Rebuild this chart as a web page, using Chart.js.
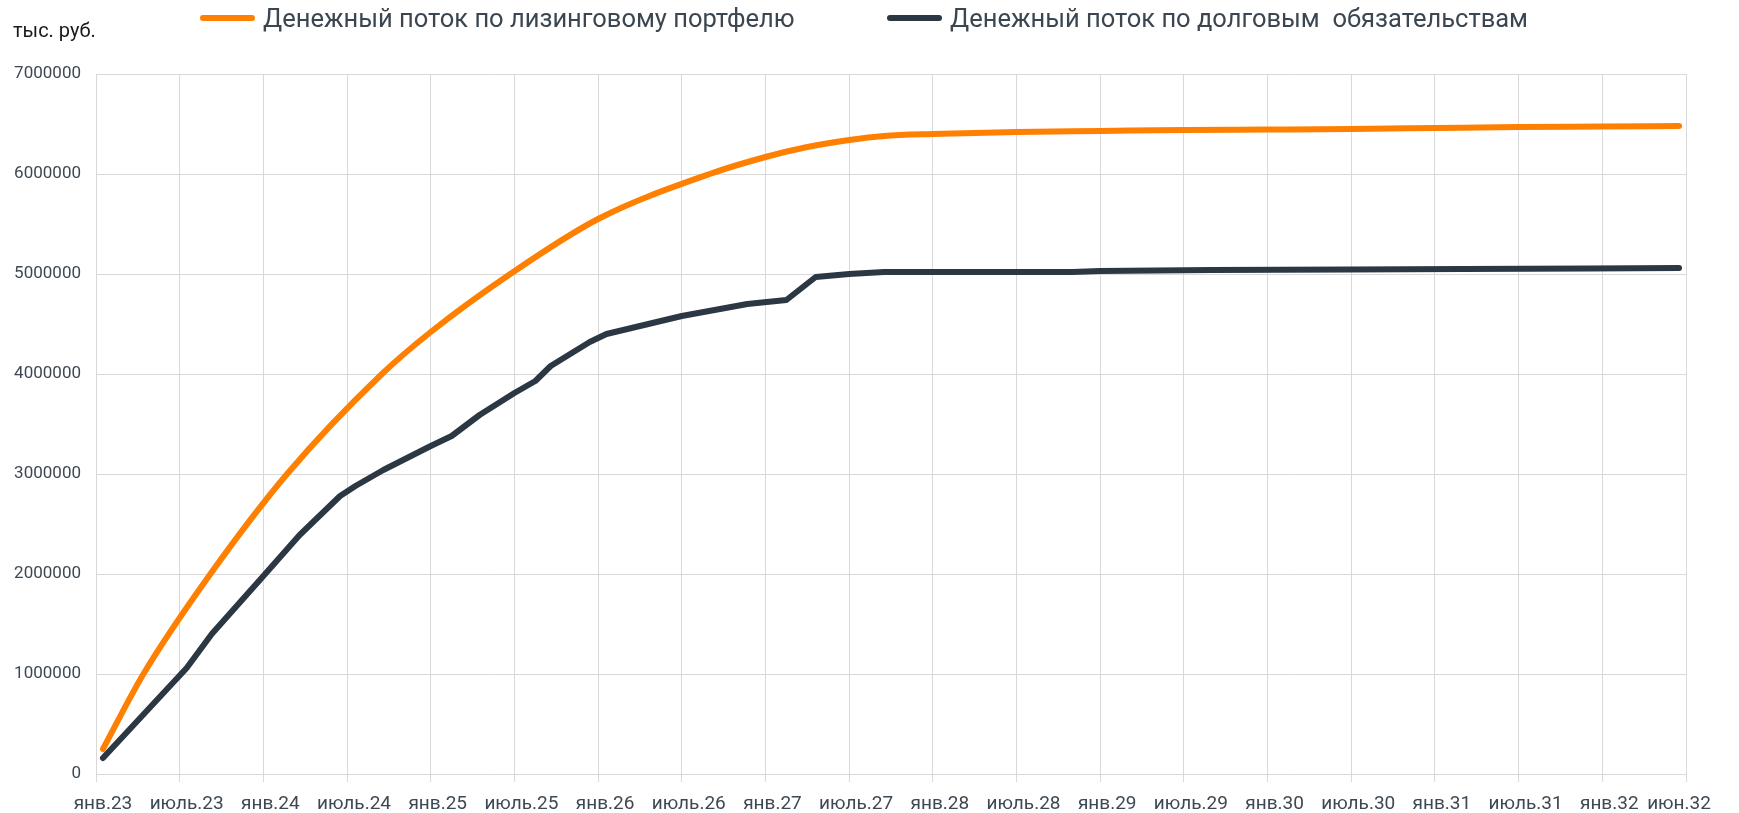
<!DOCTYPE html>
<html lang="ru">
<head>
<meta charset="utf-8">
<title>Денежный поток</title>
<script src="https://cdn.jsdelivr.net/npm/chart.js@4.4.1/dist/chart.umd.min.js"></script>
<style>
  html, body { margin: 0; padding: 0; background: #ffffff; }
  #wrap { position: relative; width: 1739px; height: 813px; overflow: hidden; }
  #chart { position: absolute; left: 0; top: 0; }
  #unit { position: absolute; left: 13px; top: 18px; font: 20px Roboto, sans-serif; color: #1a1a1a; }
  .leg { position: absolute; top: 3px; display: flex; align-items: center; white-space: pre;
         font: 25.5px Roboto, sans-serif; color: #3b4651; }
  .leg .sw { width: 55px; height: 6px; border-radius: 3px; margin-right: 8px; }
</style>
</head>
<body>
<div id="wrap">
  <canvas id="chart" width="1739" height="813"></canvas>
  <div id="unit">тыс. руб.</div>
  <div id="legend"></div>
</div>
<script>
// ---- data (month positions counted from янв.23; values in тыс. руб.) ----
const seriesNames = ['Денежный поток по лизинговому портфелю', 'Денежный поток по долговым  обязательствам'];
const seriesColors = ['#FF8000', '#2B3843'];

const leasingMonths = [0.5, 3.4, 8.2, 13.7, 20.5, 24, 29.7, 36, 44, 48, 51, 54, 56.5, 60, 66, 72, 78, 84, 90, 96, 102, 108, 113.5];
const leasingValues = [250000, 1000000, 2000000, 3000000, 4000000, 4420000, 5000000, 5550000, 6000000, 6170000, 6270000, 6340000, 6380000, 6400000, 6420000, 6430000, 6440000, 6445000, 6450000, 6460000, 6470000, 6475000, 6480000];

const debtMonths = [0.5, 6.5, 8.3, 12, 14.6, 17.5, 18.6, 20.6, 24, 25.5, 27.5, 30, 31.5, 32.6, 35.4, 36.6, 42, 46.7, 49.5, 51.6, 54, 56.5, 70, 72, 80, 90, 98, 107, 113.5];
const debtValues = [160000, 1060000, 1400000, 1980000, 2390000, 2780000, 2880000, 3040000, 3280000, 3380000, 3590000, 3810000, 3930000, 4080000, 4320000, 4400000, 4580000, 4700000, 4740000, 4970000, 5000000, 5020000, 5020000, 5030000, 5040000, 5045000, 5050000, 5055000, 5060000];

// axis: category boundaries every 6 months, labels at category centres
const gridMonths = [0, 6, 12, 18, 24, 30, 36, 42, 48, 54, 60, 66, 72, 78, 84, 90, 96, 102, 108, 114];
const labelMonths = [0, 6, 12, 18, 24, 30, 36, 42, 48, 54, 60, 66, 72, 78, 84, 90, 96, 102, 108, 113];
const xLabels = ['янв.23', 'июль.23', 'янв.24', 'июль.24', 'янв.25', 'июль.25', 'янв.26', 'июль.26', 'янв.27', 'июль.27', 'янв.28', 'июль.28', 'янв.29', 'июль.29', 'янв.30', 'июль.30', 'янв.31', 'июль.31', 'янв.32', 'июн.32'];
const yTicks = [0, 1000000, 2000000, 3000000, 4000000, 5000000, 6000000, 7000000];

const toPoints = (ms, vs) => ms.map((m, i) => ({ x: m, y: vs[i] }));

const FONT = 'Roboto, sans-serif';
const TEXT = '#3d4852';
const GRID = '#d9d9d9';

const chart = new Chart(document.getElementById('chart'), {
  type: 'line',
  data: {
    datasets: [
      { label: seriesNames[0], data: toPoints(leasingMonths, leasingValues), borderColor: seriesColors[0], backgroundColor: seriesColors[0],
        borderWidth: 6, pointRadius: 0, cubicInterpolationMode: 'monotone', borderCapStyle: 'round', borderJoinStyle: 'round', fill: false },
      { label: seriesNames[1], data: toPoints(debtMonths, debtValues), borderColor: seriesColors[1], backgroundColor: seriesColors[1],
        borderWidth: 6, pointRadius: 0, tension: 0, borderCapStyle: 'round', borderJoinStyle: 'round', fill: false }
    ]
  },
  options: {
    responsive: false,
    animation: false,
    layout: { padding: { top: 74, right: 53, left: 0, bottom: 0 } },
    plugins: { legend: { display: false }, tooltip: { enabled: false } },
    scales: {
      x: {
        type: 'linear', min: 0, max: 114, weight: 0,
        grid: { color: GRID, lineWidth: 1, drawTicks: true, tickLength: 8, tickColor: GRID },
        border: { display: false },
        ticks: { display: false },
        afterBuildTicks: s => { s.ticks = gridMonths.map(v => ({ value: v })); },
        afterFit: s => { s.height = 8; }
      },
      x2: {
        type: 'linear', position: 'bottom', min: 0, max: 114, weight: 1,
        grid: { display: false },
        border: { display: false },
        ticks: { color: TEXT, font: { family: FONT, size: 19 }, padding: 3, maxRotation: 0, autoSkip: false,
                 callback: (v) => { const k = labelMonths.findIndex(m => Math.abs(m + 0.5 - v) < 1e-6); return k >= 0 ? xLabels[k] : ''; } },
        afterBuildTicks: s => { s.ticks = labelMonths.map(m => ({ value: m + 0.5 })); },
        afterFit: s => { s.height = 31; }
      },
      y: {
        type: 'linear', min: 0, max: 7000000,
        grid: { color: GRID, lineWidth: 1, drawTicks: false },
        border: { display: false },
        ticks: { color: TEXT, font: { family: FONT, size: 17 }, padding: 15, callback: v => String(v) },
        afterBuildTicks: s => { s.ticks = yTicks.map(v => ({ value: v })); },
        afterFit: s => { s.width = 96; }
      }
    }
  }
});

// HTML legend built from the chart's datasets
const legendLeft = [200, 887];
const legendEl = document.getElementById('legend');
chart.data.datasets.forEach((ds, i) => {
  const item = document.createElement('div');
  item.className = 'leg';
  item.style.left = legendLeft[i] + 'px';
  const sw = document.createElement('span');
  sw.className = 'sw';
  sw.style.background = ds.borderColor;
  const tx = document.createElement('span');
  tx.textContent = ds.label;
  item.appendChild(sw); item.appendChild(tx);
  legendEl.appendChild(item);
});
</script>
</body>
</html>
